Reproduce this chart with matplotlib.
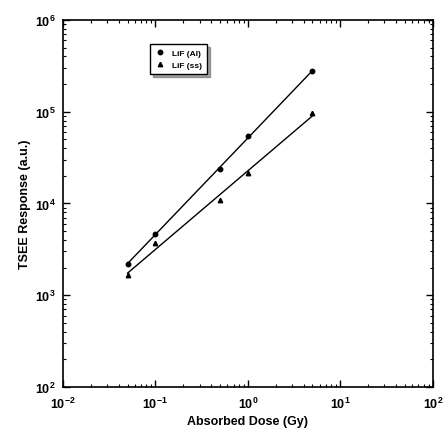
import numpy as np
import matplotlib
matplotlib.use("Agg")
import matplotlib.pyplot as plt
from matplotlib.ticker import LogLocator, NullFormatter

plt.rcParams["font.family"] = ["Liberation Sans", "DejaVu Sans"]
plt.rcParams["font.weight"] = "bold"
plt.rcParams["mathtext.default"] = "bf"

dose = [0.05, 0.1, 0.5, 1.0, 5.0]
lif_al = [2200, 4650, 23800, 54000, 278000]
lif_ss = [1650, 3700, 11000, 21500, 97000]
labels = ["LiF (Al)", "LiF (ss)"]

fig = plt.figure(figsize=(4.43, 4.35), dpi=100)
ax = fig.add_axes([0.142, 0.108, 0.835, 0.844])

for y, m, lab in [(lif_al, "o", labels[0]), (lif_ss, "^", labels[1])]:
    k, b = np.polyfit(np.log10(dose), np.log10(y), 1)
    xf = np.array([dose[0], dose[-1]])
    ax.plot(xf, 10 ** (k * np.log10(xf) + b), color="black", lw=1.0)
    ax.plot(dose, y, m, color="black", ms=3.2, ls="none", label=lab)

ax.set_xscale("log")
ax.set_yscale("log")
ax.set_xlim(1e-2, 1e2)
ax.set_ylim(1e2, 1e6)
for axis in (ax.xaxis, ax.yaxis):
    axis.set_minor_locator(LogLocator(base=10, subs=np.arange(2, 10)))
    axis.set_minor_formatter(NullFormatter())
ax.tick_params(which="both", direction="in", top=True, right=True, labelsize=9)
ax.tick_params(which="major", length=5, width=1)
ax.tick_params(which="minor", length=2.5, width=0.8)
ax.tick_params(axis="x", which="major", pad=6)
ax.tick_params(axis="y", which="major", pad=5)
for s in ax.spines.values():
    s.set_linewidth(1.2)

ax.set_xlabel("Absorbed Dose (Gy)", fontsize=9, fontweight="bold", labelpad=3)
ax.set_ylabel("TSEE Response (a.u.)", fontsize=9, fontweight="bold", labelpad=3)

leg = ax.legend(loc="upper left", bbox_to_anchor=(0.225, 0.945), fontsize=6,
                frameon=True, fancybox=False, shadow=True, edgecolor="black",
                handlelength=1.2, borderpad=0.6, labelspacing=0.5)
leg.get_frame().set_linewidth(1.0)

fig.savefig("out.png", dpi=100)
